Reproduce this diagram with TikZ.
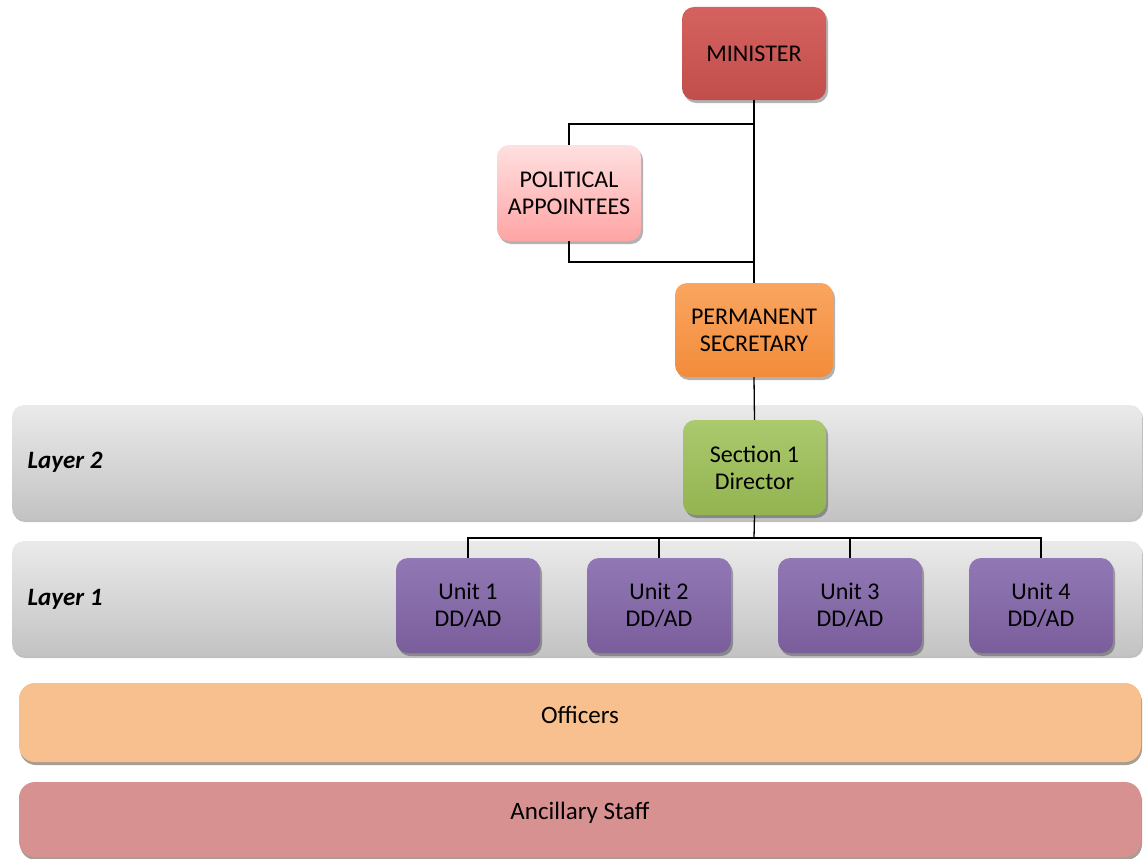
\documentclass[tikz,border=0pt]{standalone}
\usepackage{fontspec}
\setmainfont{Carlito}
\usepackage{xcolor}
\usepackage{tikz}
\usetikzlibrary{shadows}
\definecolor{ministerTop}{HTML}{D4625F}
\definecolor{ministerBot}{HTML}{C24E4B}
\definecolor{appointTop}{HTML}{FFE0E0}
\definecolor{appointBot}{HTML}{FFA4A4}
\definecolor{secTop}{HTML}{FAA561}
\definecolor{secBot}{HTML}{F28C3A}
\definecolor{dirTop}{HTML}{ABC96D}
\definecolor{dirBot}{HTML}{93B451}
\definecolor{unitTop}{HTML}{9178B4}
\definecolor{unitBot}{HTML}{7A5E9C}
\definecolor{layerTop}{HTML}{EAEAEA}
\definecolor{layerBot}{HTML}{C3C3C3}
\definecolor{officer}{HTML}{F8BF8F}
\definecolor{ancillary}{HTML}{D89191}
\tikzset{
  orgBox/.style={rounded corners=12pt, align=center, font=\fontsize{24}{27}\selectfont,
    drop shadow={shadow xshift=2pt, shadow yshift=-3pt, fill=black, opacity=0.3}},
  ministerBox/.style={orgBox, top color=ministerTop, bottom color=ministerBot,
    minimum width=144pt, minimum height=93pt},
  appointBox/.style={orgBox, top color=appointTop, bottom color=appointBot,
    minimum width=144pt, minimum height=96pt},
  secBox/.style={orgBox, top color=secTop, bottom color=secBot,
    minimum width=158pt, minimum height=94pt},
  dirBox/.style={orgBox, top color=dirTop, bottom color=dirBot,
    minimum width=143pt, minimum height=95pt},
  unitBox/.style={orgBox, top color=unitTop, bottom color=unitBot,
    minimum width=144pt, minimum height=95pt},
  layerBand/.style={rounded corners=12pt, top color=layerTop, bottom color=layerBot,
    minimum width=1130pt, minimum height=115pt,
    drop shadow={shadow xshift=1pt, shadow yshift=-2pt, fill=black, opacity=0.25}},
  layerLabel/.style={font=\fontsize{25}{28}\selectfont\bfseries\itshape, anchor=west},
  staffBand/.style={rounded corners=16pt, minimum width=1122pt,
    font=\fontsize{25}{28}\selectfont,
    drop shadow={shadow xshift=1pt, shadow yshift=-3pt, fill=black!70!brown, opacity=0.45}},
  orgLine/.style={draw=black, line width=1.3pt}
}
\begin{document}
\begin{tikzpicture}[x=1pt, y=-1pt]
  \useasboundingbox (0,0) rectangle (1143,859);

  % layer bands
  \node[layerBand] (layerTwo) at (577,462.5) {};
  \node[layerBand] (layerOne) at (577,598.5) {};
  \node[layerLabel] (layerTwoText) at (24,462) {Layer 2};
  \node[layerLabel] (layerOneText) at (24,599) {Layer 1};

  % staff bands
  \node[staffBand, fill=officer, minimum height=79pt] (officers) at (580,722.5) {};
  \node (officersText) at (580,715) {\fontsize{25}{28}\selectfont Officers};
  \node[staffBand, fill=ancillary, minimum height=75pt] (ancillary) at (580,819.5) {};
  \node (ancillaryText) at (580,813) {\fontsize{25}{28}\selectfont Ancillary Staff};

  % boxes
  \node[ministerBox] (minister) at (754,53.5) {MINISTER};
  \node[appointBox] (appointees) at (569,193) {POLITICAL\\APPOINTEES};
  \node[secBox] (secretary) at (754,330) {PERMANENT\\SECRETARY};
  \node[dirBox] (director) at (754.5,467.5) {Section 1\\Director};
  \node[unitBox] (unitOne) at (468,605.5) {Unit 1\\DD/AD};
  \node[unitBox] (unitTwo) at (659,605.5) {Unit 2\\DD/AD};
  \node[unitBox] (unitThree) at (850,605.5) {Unit 3\\DD/AD};
  \node[unitBox] (unitFour) at (1041,605.5) {Unit 4\\DD/AD};

  % connectors
  \coordinate (apTop) at (754,124);
  \coordinate (apBottom) at (754,262);
  \coordinate (unitBus) at (754,538);
  \draw[orgLine] (minister.south) -- (secretary.north);
  \draw[orgLine] (apTop) -| (appointees.north);
  \draw[orgLine] (appointees.south) |- (apBottom);
  \draw[orgLine] (secretary.south) -- (director.north);
  \draw[orgLine] (director.south) -- (unitBus);
  \foreach \u in {unitOne,unitTwo,unitThree,unitFour}
    \draw[orgLine] (unitBus) -| (\u.north);
\end{tikzpicture}
\end{document}
